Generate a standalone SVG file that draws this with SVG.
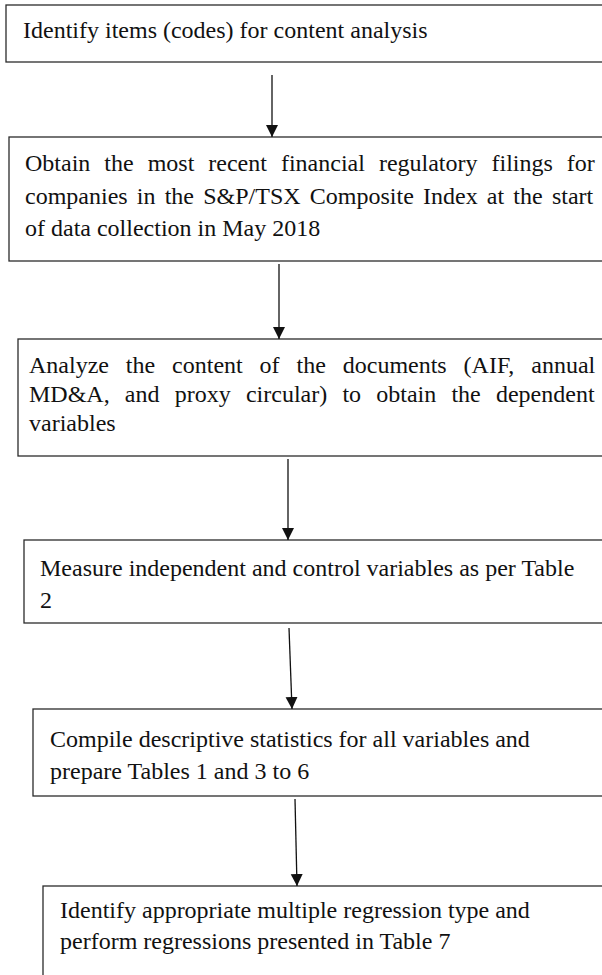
<svg xmlns="http://www.w3.org/2000/svg" width="602" height="975" viewBox="0 0 602 975">
  <style>
    .box { fill: #ffffff; stroke: #2b2b2b; stroke-width: 1.3; }
    .lbl { font-family: "Liberation Serif", "Times New Roman", serif; font-size: 24px; fill: #111111; }
    .edge { stroke: #111111; stroke-width: 1.3; fill: none; marker-end: url(#head); }
  </style>
  <defs>
    <marker id="head" markerUnits="userSpaceOnUse" markerWidth="12" markerHeight="13" refX="12" refY="6" orient="auto">
      <path d="M0,0 L12,6 L0,12 Z" fill="#111111"/>
    </marker>
  </defs>
  <rect width="602" height="975" fill="#ffffff"/>

  <g id="step1">
    <rect class="box" x="6" y="5" width="610" height="57"/>
    <text class="lbl" x="23" y="38">Identify items (codes) for content analysis</text>
  </g>

  <g id="step2">
    <rect class="box" x="9" y="137" width="610" height="124"/>
    <text class="lbl" x="25" y="171" word-spacing="8">Obtain the most recent financial regulatory filings for</text>
    <text class="lbl" x="25" y="204" word-spacing="3.2">companies in the S&amp;P/TSX Composite Index at the start</text>
    <text class="lbl" x="25" y="236">of data collection in May 2018</text>
  </g>

  <g id="step3">
    <rect class="box" x="18" y="339" width="610" height="117"/>
    <text class="lbl" x="29" y="373" word-spacing="10.9">Analyze the content of the documents (AIF, annual</text>
    <text class="lbl" x="29" y="402" word-spacing="9.2">MD&amp;A, and proxy circular) to obtain the dependent</text>
    <text class="lbl" x="29" y="431">variables</text>
  </g>

  <g id="step4">
    <rect class="box" x="24" y="540" width="610" height="83"/>
    <text class="lbl" x="40" y="576">Measure independent and control variables as per Table</text>
    <text class="lbl" x="40" y="608">2</text>
  </g>

  <g id="step5">
    <rect class="box" x="33" y="709" width="610" height="87"/>
    <text class="lbl" x="50" y="747">Compile descriptive statistics for all variables and</text>
    <text class="lbl" x="50" y="779">prepare Tables 1 and 3 to 6</text>
  </g>

  <g id="step6">
    <rect class="box" x="43" y="886" width="610" height="120"/>
    <text class="lbl" x="60" y="918">Identify appropriate multiple regression type and</text>
    <text class="lbl" x="60" y="949">perform regressions presented in Table 7</text>
  </g>

  <g id="connectors">
    <line class="edge" x1="272" y1="75" x2="272" y2="137"/>
    <line class="edge" x1="279" y1="264" x2="279" y2="339"/>
    <line class="edge" x1="288" y1="459" x2="288" y2="540"/>
    <line class="edge" x1="289" y1="628" x2="292" y2="709"/>
    <line class="edge" x1="295" y1="799" x2="297" y2="886"/>
  </g>
</svg>
